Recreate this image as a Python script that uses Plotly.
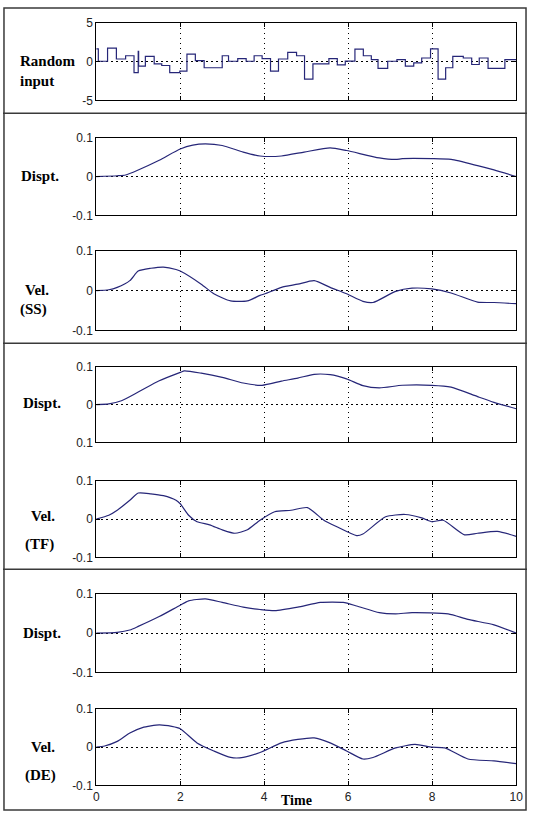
import plotly.graph_objects as go

# ---------------- data ----------------
rand_t = [0, 0.05, 0.27, 0.48, 0.70, 0.90, 1.0, 1.01, 1.17, 1.38, 1.56, 1.75, 1.99, 2.16, 2.36,
          2.57, 3.0, 3.15, 3.37, 3.57, 3.76, 3.95, 4.15, 4.34, 4.56, 4.77, 4.96, 5.16, 5.54, 5.74,
          5.93, 6.16, 6.36, 6.55, 6.71, 6.94, 7.16, 7.36, 7.56, 7.75, 7.96, 8.14, 8.32, 8.49, 8.74,
          8.94, 9.12, 9.33, 9.73, 9.95]
rand_v = [1.63, 0.04, 1.72, 0.33, 0.75, -1.43, 1.3, -0.59, 0.67, -0.3, -0.51, -1.43, -1.22, 0.96, 0.12,
          -0.8, 0.75, 0.04, 0.37, 0.04, 0.75, 0.37, -1.22, 0.33, 1.17, 0.75, -2.27, -0.3, 0.37, -0.42,
          0.05, 1.6, 0.75, 0.25, -0.89, 0.04, 0.25, -0.59, -0.17, 0.46, 1.64, -2.27, -0.8, 0.67, 0.46,
          -0.38, 0.46, -0.89, 0.25, 0.25]

ss_disp_t = [0, 0.5, 0.7, 1.0, 1.5, 2.0, 2.3, 2.6, 3.0, 3.5, 3.9, 4.41, 4.95, 5.57, 5.96, 6.74, 7.13,
             7.29, 7.99, 8.45, 9.08, 9.47, 10]
ss_disp = [0, 0.002, 0.004, 0.017, 0.042, 0.071, 0.081, 0.084, 0.08, 0.063, 0.053, 0.053, 0.063, 0.074,
           0.067, 0.048, 0.044, 0.046, 0.046, 0.044, 0.028, 0.017, 0]

ss_vel_t = [0, 0.3, 0.5, 0.8, 1.0, 1.3, 1.6, 1.9, 2.0, 2.5, 2.8, 3.2, 3.6, 3.9, 4.02, 4.41, 4.80, 5.19,
            5.57, 5.96, 6.35, 6.59, 7.13, 7.52, 7.99, 8.45, 9.08, 9.47, 10]
ss_vel = [0, 0.002, 0.008, 0.025, 0.049, 0.056, 0.059, 0.053, 0.049, 0.016, -0.008, -0.026, -0.026,
          -0.012, -0.008, 0.008, 0.016, 0.025, 0.008, -0.008, -0.027, -0.03, -0.002, 0.006, 0.004,
          -0.006, -0.029, -0.03, -0.033]

tf_disp_t = [0, 0.3, 0.6, 1.0, 1.5, 2.0, 2.1, 2.5, 3.0, 3.5, 3.95, 4.41, 4.80, 5.19, 5.57, 5.96, 6.35,
             6.74, 7.29, 7.99, 8.45, 9.08, 9.47, 10]
tf_disp = [0, 0.002, 0.01, 0.033, 0.063, 0.085, 0.089, 0.083, 0.072, 0.057, 0.051, 0.062, 0.07, 0.08,
           0.079, 0.068, 0.05, 0.044, 0.051, 0.051, 0.046, 0.021, 0.006, -0.011]

tf_vel_t = [0, 0.3, 0.5, 0.8, 1.0, 1.3, 1.6, 1.9, 2.0, 2.2, 2.4, 2.7, 3.0, 3.3, 3.6, 3.9, 4.25, 4.64,
            5.03, 5.42, 5.73, 6.20, 6.35, 6.89, 7.36, 7.75, 7.99, 8.26, 8.77, 9.08, 9.55, 10]
tf_vel = [0, 0.01, 0.023, 0.049, 0.068, 0.066, 0.061, 0.049, 0.04, 0.01, -0.007, -0.015, -0.028, -0.037,
          -0.028, -0.003, 0.019, 0.023, 0.03, -0.003, -0.02, -0.043, -0.039, 0.006, 0.012, 0.003,
          -0.007, -0.003, -0.041, -0.037, -0.032, -0.045]

de_disp_t = [0, 0.5, 0.8, 1.0, 1.5, 2.0, 2.2, 2.6, 3.0, 3.5, 3.9, 4.25, 4.80, 5.34, 5.88, 6.20, 6.74,
             7.13, 7.52, 8.38, 8.85, 9.47, 10]
de_disp = [0, 0.002, 0.008, 0.017, 0.042, 0.071, 0.082, 0.087, 0.078, 0.066, 0.06, 0.057, 0.066, 0.078,
           0.078, 0.069, 0.052, 0.049, 0.052, 0.049, 0.035, 0.021, 0]

de_vel_t = [0, 0.2, 0.5, 0.8, 1.1, 1.5, 1.8, 2.0, 2.4, 2.8, 3.2, 3.5, 3.9, 4.41, 4.80, 5.19, 5.57, 5.96,
            6.35, 6.59, 7.13, 7.59, 7.99, 8.30, 8.85, 9.47, 10]
de_vel = [0, 0.003, 0.015, 0.037, 0.051, 0.058, 0.054, 0.048, 0.011, -0.01, -0.027, -0.027, -0.014,
          0.011, 0.02, 0.024, 0.011, -0.01, -0.031, -0.027, -0.002, 0.007, 0, -0.002, -0.031, -0.036,
          -0.043]

x_ticks = [0, 2, 4, 6, 8, 10]
x_ticktext = ["0", "2", "4", "6", "8", "10"]
y_ticks_in = [-5, 0, 5]
y_ticktext_in = ["-5", "0", "5"]
y_ticks_resp = [-0.1, 0, 0.1]
y_ticktext_resp = ["-0.1", "0", "0.1"]
y_ticktext_tf_disp = ["0.1", "0", "0.1"]   # as printed in the source

# ---------------- layout helpers ----------------
W, H = 534, 818
def py(p):
    return 1 - p / H
def px(p):
    return p / W

LINE = "#262678"
rows = [
    (rand_t + [10], rand_v + [rand_v[-1]], [-5, 5], y_ticks_in, y_ticktext_in, (16, 95), "hv"),
    (ss_disp_t, ss_disp, [-0.1, 0.1], y_ticks_resp, y_ticktext_resp, (133, 212), "spline"),
    (ss_vel_t, ss_vel, [-0.1, 0.1], y_ticks_resp, y_ticktext_resp, (248, 329), "spline"),
    (tf_disp_t, tf_disp, [-0.1, 0.1], y_ticks_resp, y_ticktext_tf_disp, (366, 443), "spline"),
    (tf_vel_t, tf_vel, [-0.1, 0.1], y_ticks_resp, y_ticktext_resp, (482, 560), "spline"),
    (de_disp_t, de_disp, [-0.1, 0.1], y_ticks_resp, y_ticktext_resp, (597, 677), "spline"),
    (de_vel_t, de_vel, [-0.1, 0.1], y_ticks_resp, y_ticktext_resp, (714, 792), "spline"),
]

fig = go.Figure()
tickfont = dict(family="Arial, Liberation Sans, sans-serif", size=12, color="#222222")
layout = dict(
    width=W, height=H, margin=dict(l=0, r=0, t=0, b=0),
    paper_bgcolor="white", plot_bgcolor="white", showlegend=False,
)
n = len(rows)
for i, (xs, ys, yr, tv, tt, (top, bot), shape) in enumerate(rows, start=1):
    line = dict(color=LINE, width=1.2, shape=shape)
    if shape == "spline":
        line["smoothing"] = 0.6
    fig.add_trace(go.Scatter(x=xs, y=ys, mode="lines", line=line,
                             xaxis=f"x{i}", yaxis=f"y{i}", hoverinfo="skip"))
    xname = "xaxis" if i == 1 else f"xaxis{i}"
    yname = "yaxis" if i == 1 else f"yaxis{i}"
    layout[xname] = dict(
        domain=[px(95), px(523)], range=[0, 10], anchor=f"y{i}",
        tickvals=x_ticks, ticktext=x_ticktext, showticklabels=(i == n),
        ticks="inside", ticklen=4, tickcolor="black",
        showline=True, linecolor="black", linewidth=1, mirror="ticks",
        showgrid=True, gridcolor="black", griddash="1.5px,3.5px", gridwidth=1,
        zeroline=False, tickfont=tickfont, fixedrange=True,
    )
    layout[yname] = dict(
        domain=[py(bot), py(top)], range=yr, anchor=f"x{i}",
        tickvals=tv, ticktext=tt,
        ticks="inside", ticklen=4, tickcolor="black",
        showline=True, linecolor="black", linewidth=1, mirror="ticks",
        showgrid=True, gridcolor="black", griddash="1.5px,3.5px", gridwidth=1,
        zeroline=False, tickfont=tickfont, fixedrange=True,
    )
fig.update_layout(**layout)

# panel labels
serif = "Times New Roman, Liberation Serif, serif"
labels = [
    ("Random", 15, 55), ("input", 15, 75),
    ("Dispt.", 16, 172), ("Vel.", 20, 288), ("(SS)", 15, 308),
    ("Dispt.", 18, 403), ("Vel.", 27, 518), ("(TF)", 20, 547),
    ("Dispt.", 18, 637), ("Vel.", 27, 753), ("(DE)", 20, 782),
]
for txt, lx, ly in labels:
    fig.add_annotation(text=f"<b>{txt}</b>", x=px(lx), y=py(ly), xref="paper", yref="paper",
                       xanchor="left", yanchor="middle", showarrow=False,
                       font=dict(family=serif, size=15, color="black"))
fig.add_annotation(text="<b>Time</b>", x=px(299), y=py(807), xref="paper", yref="paper",
                   xanchor="center", yanchor="middle", showarrow=False,
                   font=dict(family=serif, size=14, color="black"))

# panel separators and outer frame
frame = dict(color="#3a3a3a", width=1.5)
for sy in (108, 342, 572):
    fig.add_shape(type="line", xref="paper", yref="paper", x0=0, x1=1, y0=py(sy), y1=py(sy), line=frame)
fig.add_shape(type="rect", xref="paper", yref="paper", x0=px(1), x1=px(533), y0=py(817), y1=py(1), line=frame)

fig.write_html("out.html")
